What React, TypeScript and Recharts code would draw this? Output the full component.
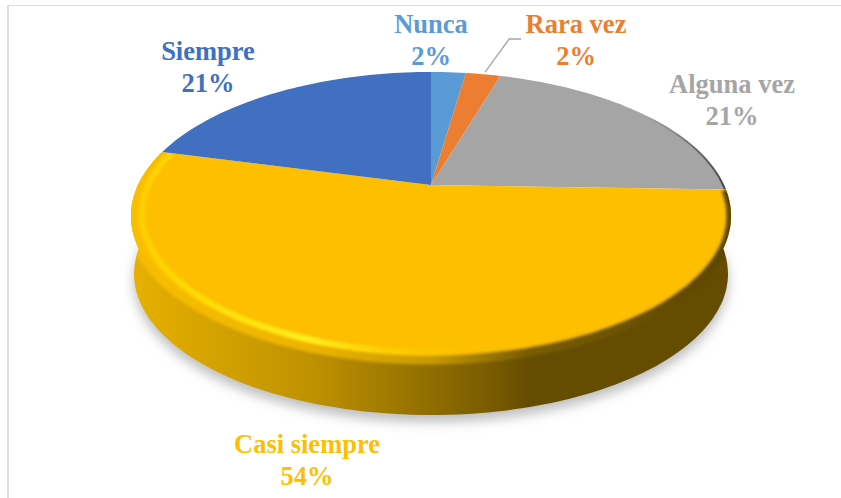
import React from 'react';
import { PieChart, Pie } from 'recharts';

const categories = ['Nunca', 'Rara vez', 'Alguna vez', 'Casi siempre', 'Siempre'];
const shares = [2.3, 2.3, 20.9, 53.5, 20.9];
const colors = ['#5B9BD5', '#ED7D31', '#A5A5A5', '#FDBF00', '#4170C1'];

const data = categories.map((name, i) => ({ name, value: shares[i], fill: colors[i] }));

// where each two-line label sits: centre x, first baseline
const labelSpots = [
  { x: 431, y: 33 },
  { x: 576, y: 33 },
  { x: 732, y: 93 },
  { x: 307, y: 453 },
  { x: 208, y: 60 },
];

// perspective of the tilted disc, top face and bottom face
const APEX_X = 431;
const APEX_Y = 185;
const TILT = 0.2153;
const RADIUS = 293;
const top = { a: RADIUS, b: 137.3, y: APEX_Y };
const bottom = { a: 290, b: 134.6, y: 243.5 };

const project = (deg: number, face: { a: number; b: number; y: number }, scale = 1) => {
  const t = ((90 - deg) * Math.PI) / 180;
  const u = Math.sin(t) * scale;
  const v = Math.cos(t) * scale;
  const w = 1 + TILT * v;
  return [APEX_X + (face.a * u) / w, face.y - (face.b * v) / w];
};

const arc = (from: number, to: number, face: typeof top, scale = 1) => {
  const steps = Math.max(4, Math.ceil(Math.abs(to - from) / 1.5));
  const pts: string[] = [];
  for (let i = 0; i <= steps; i++) {
    const p = project(from + ((to - from) * i) / steps, face, scale);
    pts.push(p[0].toFixed(1) + ' ' + p[1].toFixed(1));
  }
  return pts;
};

const DiscSlice = (props: any) => {
  const { startAngle, endAngle, fill, index } = props;
  const rim = arc(startAngle, endAngle, top);
  const face = `M${APEX_X} ${APEX_Y}L${rim.join('L')}Z`;
  const lower = arc(endAngle, startAngle, bottom);
  const wall = `M${rim.join('L')}L${lower.join('L')}Z`;
  const name = categories[index];

  if (name === 'Casi siempre') {
    const glint = arc(startAngle, endAngle, top, 0.965);
    return (
      <g>
        <defs>
          <linearGradient id="wallShade" gradientUnits="userSpaceOnUse" x1="135" x2="731" y1="0" y2="0">
            <stop offset="0" stopColor="#E6B000" />
            <stop offset="0.3" stopColor="#BE9100" />
            <stop offset="0.62" stopColor="#735700" />
            <stop offset="0.66" stopColor="#644C00" />
            <stop offset="1" stopColor="#644C00" />
          </linearGradient>
          <linearGradient id="edgeBand" gradientUnits="userSpaceOnUse" x1="131" x2="731" y1="0" y2="0">
            <stop offset="0" stopColor="#F8BE00" />
            <stop offset="0.3" stopColor="#ECB400" />
            <stop offset="0.5" stopColor="#C89A00" />
            <stop offset="0.66" stopColor="#7A5D00" />
            <stop offset="1" stopColor="#5C4600" />
          </linearGradient>
          <linearGradient id="rimShade" gradientUnits="userSpaceOnUse" x1="131" x2="731" y1="0" y2="0">
            <stop offset="0" stopColor="#FFD400" stopOpacity="0.7" />
            <stop offset="0.1" stopColor="#FFDC00" />
            <stop offset="0.3" stopColor="#FFF020" />
            <stop offset="0.46" stopColor="#FFD000" stopOpacity="0.6" />
            <stop offset="0.6" stopColor="#FFC800" stopOpacity="0" />
            <stop offset="1" stopColor="#FFC800" stopOpacity="0" />
          </linearGradient>
          <filter id="softShadow" x="-10%" y="-20%" width="120%" height="140%">
            <feGaussianBlur stdDeviation="6" />
          </filter>
          <filter id="softRim" x="-5%" y="-5%" width="110%" height="110%">
            <feGaussianBlur stdDeviation="1.8" />
          </filter>
          <clipPath id="faceClip">
            <path d={face} />
            <path d={wall} />
          </clipPath>
        </defs>
        <path d={`M${lower.join('L')}Z`} fill="#BEBEBE" filter="url(#softShadow)" transform="translate(0 7)" />
        <path d={wall} fill="url(#wallShade)" />
        <path d={face} fill={fill} />
        <g clipPath="url(#faceClip)">
          <path d={`M${rim.join('L')}`} fill="none" stroke="url(#edgeBand)" strokeWidth={9} filter="url(#softRim)" />
          <path d={`M${glint.join('L')}`} fill="none" stroke="url(#rimShade)" strokeWidth={6} filter="url(#softRim)" />
        </g>
      </g>
    );
  }

  if (name === 'Alguna vez') {
    const inner = arc(startAngle, endAngle, top, 0.997);
    return (
      <g>
        <defs>
          <linearGradient id="edgeShade" gradientUnits="userSpaceOnUse" x1="640" x2="730" y1="0" y2="0">
            <stop offset="0" stopColor="#000" stopOpacity="0" />
            <stop offset="1" stopColor="#000" stopOpacity="0.6" />
          </linearGradient>
        </defs>
        <path d={face} fill={fill} />
        <path d={`M${inner.join('L')}`} fill="none" stroke="url(#edgeShade)" strokeWidth={2} />
      </g>
    );
  }

  return <path d={face} fill={fill} />;
};

const SliceLabel = (props: any) => {
  const { index, midAngle, value } = props;
  const spot = labelSpots[index];
  const color = colors[index];
  const tip = project(midAngle, top);
  const textStyle = { fontFamily: '"Liberation Serif", serif', fontWeight: 700, fontSize: 26.5 };
  return (
    <g>
      {categories[index] === 'Rara vez' && (
        <polyline
          points={`${tip[0] + 2},${tip[1] - 2} ${tip[0] + 26},39 ${tip[0] + 38},39`}
          fill="none"
          stroke="#A5A5A5"
          strokeWidth={1.3}
        />
      )}
      <text x={spot.x} y={spot.y} textAnchor="middle" fill={color} style={textStyle}>
        {categories[index]}
      </text>
      <text x={spot.x} y={spot.y + 32} textAnchor="middle" fill={color} style={textStyle}>
        {Math.round(value)}%
      </text>
    </g>
  );
};

const App = () => {
  return (
    <div style={{ position: 'absolute', left: 0, top: 0, width: 841, height: 498, background: '#fff', overflow: 'hidden' }}>
      <div style={{ position: 'absolute', left: 7, top: 5, right: 0, bottom: 0, borderLeft: '2px solid #DCDCDC', borderTop: '1px solid #DCDCDC' }} />
      <div style={{ position: 'absolute', left: 0, top: 0 }}>
        <PieChart width={841} height={498} margin={{ top: 0, right: 0, bottom: 0, left: 0 }}>
          <Pie
            data={data}
            dataKey="value"
            nameKey="name"
            cx={APEX_X}
            cy={APEX_Y}
            innerRadius={0}
            outerRadius={RADIUS}
            startAngle={90}
            endAngle={-270}
            stroke="none"
            shape={DiscSlice}
            label={SliceLabel}
            labelLine={false}
            isAnimationActive={false}
          />
        </PieChart>
      </div>
    </div>
  );
};

export default App;
